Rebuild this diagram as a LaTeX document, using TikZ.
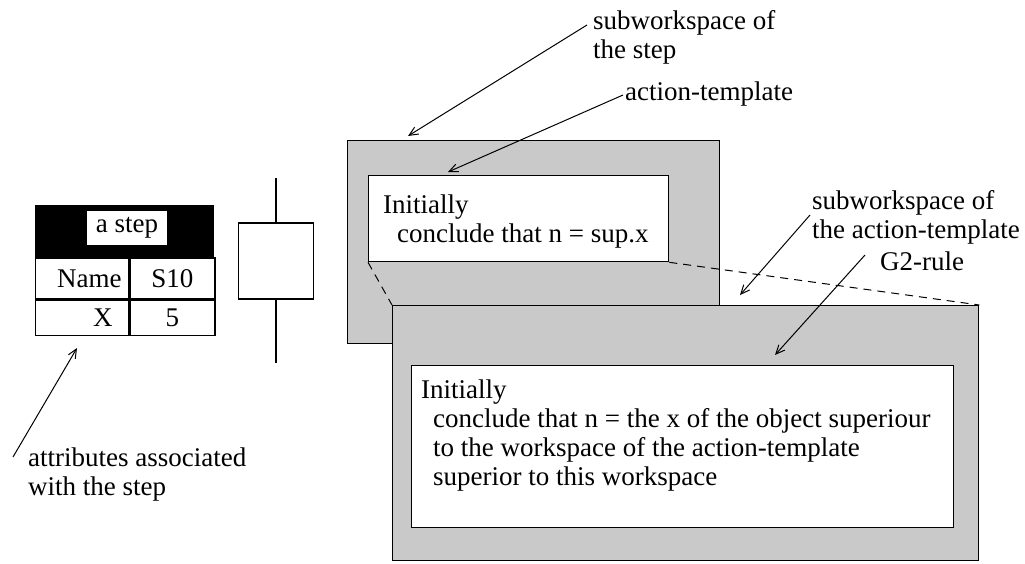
\documentclass[tikz,border=0pt]{standalone}
\usepackage{fontspec}
\setmainfont{Liberation Serif}
\usetikzlibrary{positioning, arrows.meta}
\definecolor{wsgray}{gray}{0.79}
\tikzset{
  ws/.style={draw, fill=wsgray, line width=1.3pt, inner sep=0pt, anchor=north west},
  panel/.style={draw, fill=white, line width=1.3pt, inner sep=0pt, anchor=north west},
  code/.style={anchor=base west, align=left, inner sep=0pt},
  note/.style={anchor=base west, align=left, inner sep=0pt},
  attrcell/.style={draw, fill=white, line width=1.3pt, inner ysep=0pt, anchor=north west},
  stepbox/.style={draw, fill=white, line width=1.5pt, minimum width=75pt, minimum height=76pt},
  pointer/.style={-{Straight Barb[length=9pt,width=8pt]}, line width=1pt},
  link/.style={line width=1pt, dash pattern=on 8pt off 6pt}
}

\begin{document}
\begin{tikzpicture}[x=1pt, y=-1pt, font=\fontsize{27}{29}\selectfont]
   \useasboundingbox (0,0) rectangle (1025,563);

   % attribute table of the step
   \node[attrcell, fill=black, minimum width=178pt, minimum height=51pt] (hdr) at (35,205) {};
   \node[fill=white, inner sep=0pt, minimum width=80pt, minimum height=34pt] (title) at (127,228) {a step};
   \node[attrcell, text width=79pt, inner xsep=7pt, align=right, minimum height=41pt] (namekey) at (hdr.south west) {Name};
   \node[attrcell, minimum width=85pt, minimum height=41pt] (nameval) [right=0pt of namekey] {S10};
   \node[attrcell, text width=61pt, inner xsep=16pt, align=right, minimum height=35pt] (xkey) [below=0pt of namekey] {X};
   \node[attrcell, minimum width=85pt, minimum height=35pt] (xval) [right=0pt of xkey] {5};

   % the step symbol
   \node[stepbox] (sym) at (276,261) {};
   \coordinate (symin) at (276,178);
   \coordinate (symout) at (276,363);
   \draw[line width=1.3pt] (symin) -- (sym.north) (sym.south) -- (symout);

   % workspaces (base of a text is its last line)
   \node[ws, minimum width=372pt, minimum height=203pt] (ws1) at (347,140) {};
   \node[panel, minimum width=300pt, minimum height=86pt] (p1) at (368,175) {};
   \node[code] (c1) at ([shift={(15,67)}]p1.north west) {Initially\\\hspace*{14pt}conclude that n = sup.x};
   \node[ws, minimum width=586pt, minimum height=255pt] (ws2) at (392,305) {};
   \node[panel, minimum width=542pt, minimum height=162pt] (p2) at (411,365) {};
   \node[code] (c2) at ([shift={(10,120)}]p2.north west) {Initially\\\hspace*{12pt}conclude that n = the x of the object superiour\\\hspace*{12pt}to the workspace of the action-template\\\hspace*{12pt}superior to this workspace};

   \draw[link] (p1.south west) -- (ws2.north west);
   \draw[link] (p1.south east) -- (ws2.north east);

   % annotations
   \node[note] (stepws) at (593,58) {subworkspace of\\the step};
   \node[note] (tmpl) at (625,100) {action-template};
   \node[note] (tmplws) at (812,238) {subworkspace of\\the action-template};
   \node[note] (rule) at (880,270) {G2-rule};
   \node[note] (attrs) at (28,495) {attributes associated\\with the step};

   \coordinate (h1) at (408,136);
   \coordinate (h2) at (448,172);
   \coordinate (h3) at (740,295);
   \coordinate (h4) at (775,355);
   \coordinate (h5) at (77,348);

   \draw[pointer] ([shift={(-6,-33)}]stepws.base west) -- (h1);
   \draw[pointer] ([shift={(-2,-5)}]tmpl.base west) -- (h2);
   \draw[pointer] ([shift={(-2,-23)}]tmplws.base west) -- (h3);
   \draw[pointer] ([shift={(-15,-15)}]rule.base west) -- (h4);
   \draw[pointer] ([shift={(-15,-38)}]attrs.base west) -- (h5);
\end{tikzpicture}
\end{document}
